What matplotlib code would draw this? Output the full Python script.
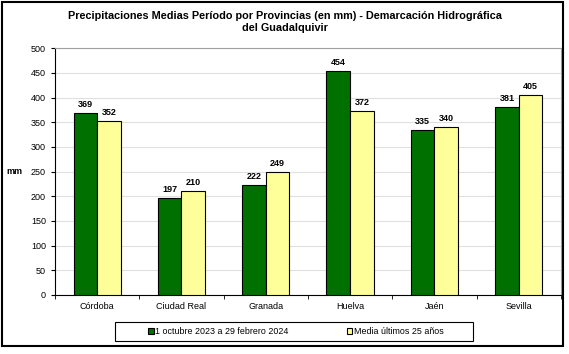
import matplotlib
matplotlib.use("Agg")
import matplotlib.pyplot as plt
import numpy as np
from matplotlib.patches import Rectangle

plt.rcParams['font.family'] = ['Liberation Sans', 'DejaVu Sans']

provinces = ["Córdoba", "Ciudad Real", "Granada", "Huelva", "Jaén", "Sevilla"]
current = [369, 197, 222, 454, 335, 381]
average = [352, 210, 249, 372, 340, 405]
series_labels = ["1 octubre 2023 a 29 febrero 2024", "Media últimos 25 años"]
title = "Precipitaciones Medias Período por Provincias (en mm) - Demarcación Hidrográfica\ndel Guadalquivir"

fig = plt.figure(figsize=(5.69, 3.54), dpi=100)
fig.patches.append(Rectangle((0.004, 0.022), 0.985, 0.972, transform=fig.transFigure,
                             fill=False, edgecolor='black', linewidth=1.5))
ax = fig.add_axes([0.0967, 0.1667, 0.889, 0.697])

x = np.arange(len(provinces))
w = 0.28
b1 = ax.bar(x - w/2, current, w, color='#007000', edgecolor='black', linewidth=0.8,
            label=series_labels[0], zorder=3)
b2 = ax.bar(x + w/2, average, w, color='#FFFF99', edgecolor='black', linewidth=0.8,
            label=series_labels[1], zorder=3)
for bars in (b1, b2):
    for r in bars:
        ax.text(r.get_x() + r.get_width()/2, r.get_height() + 8, f"{int(r.get_height())}",
                ha='center', va='bottom', fontsize=6.5, fontweight='bold')

ax.set_xlim(-0.5, len(provinces) - 0.5)
ax.set_ylim(0, 500)
ax.set_yticks(np.arange(0, 501, 50))
ax.set_xticks(x)
ax.set_xticklabels(provinces, fontsize=6.5)
ax.tick_params(axis='x', length=0, pad=5)
ax.set_xticks(np.arange(-0.5, len(provinces), 1), minor=True)
ax.tick_params(axis='x', which='minor', length=3, direction='out')
ax.tick_params(axis='y', labelsize=6.5, length=3, direction='out')
ax.grid(axis='y', color='#e0e0e0', linewidth=0.8, zorder=0)
for s in ['top', 'right']:
    ax.spines[s].set_color('#a0a0a0')
for s in ['left', 'bottom']:
    ax.spines[s].set_color('black')
ax.set_ylabel("mm", fontsize=6.5, fontweight='bold', rotation=0, labelpad=12, va='center')

fig.suptitle(title, fontsize=7.8, fontweight='bold', y=0.968)

# legend frame drawn manually (wide box)
fig.patches.append(Rectangle((115/569, 1 - 341/354), (473 - 115)/569, 19/354,
                             transform=fig.transFigure, fill=False, edgecolor='black',
                             linewidth=0.8))
leg = fig.legend(handles=[b1, b2], loc='center', bbox_to_anchor=(0.52, 1 - 331.5/354),
                 ncol=2, fontsize=6.4, frameon=False,
                 handlelength=0.6, handleheight=0.6, handletextpad=0.2, columnspacing=6.5,
                 borderpad=0.3)

fig.savefig("out.png", dpi=100)
